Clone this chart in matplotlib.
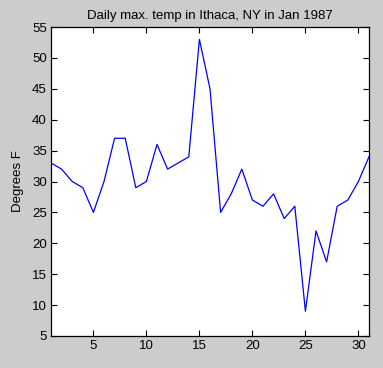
import matplotlib
matplotlib.use("Agg")
import matplotlib.pyplot as plt
import numpy as np

# --- Data: daily max temperatures, Ithaca NY, Jan 1987 ---
days = np.arange(1, 32)
max_temp = [33, 32, 30, 29, 25, 30, 37, 37, 29, 30, 36, 32, 33, 34, 53, 45,
            25, 28, 32, 27, 26, 28, 24, 26, 9, 22, 17, 26, 27, 30, 34]

plt.rcParams['font.family'] = ['Liberation Sans', 'DejaVu Sans']
plt.rcParams['font.size'] = 9.5

fig = plt.figure(figsize=(3.83, 3.68), dpi=100, facecolor='#cccccc')
ax = fig.add_axes([51 / 383, 32 / 368, 318 / 383, 309 / 368])
ax.plot(days, max_temp, color='#0000ff', linewidth=0.9)

ax.set_xlim(1, 31)
ax.set_ylim(5, 55)
ax.set_xticks([5, 10, 15, 20, 25, 30])
ax.set_yticks(np.arange(5, 56, 5))
ax.tick_params(direction='in', top=True, right=True, length=4, width=0.8, pad=3)
for s in ax.spines.values():
    s.set_linewidth(0.9)

ax.set_title("Daily max. temp in Ithaca, NY in Jan 1987", fontsize=9.5, pad=6)
ax.set_ylabel("Degrees F", fontsize=9.5, labelpad=6)

fig.savefig("out.png", dpi=100, facecolor=fig.get_facecolor())
